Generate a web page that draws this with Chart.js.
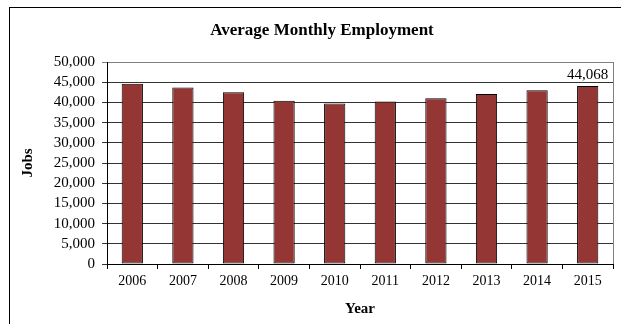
<!DOCTYPE html>
<html><head><meta charset="utf-8">
<script src="https://cdn.jsdelivr.net/npm/chart.js@4/dist/chart.umd.min.js"></script>
<style>html,body{margin:0;padding:0;background:#fff}canvas{display:block}</style>
</head><body>
<canvas id="c" width="621" height="324"></canvas>
<script>
const chartTitle = "Average Monthly Employment";
const years = ["2006","2007","2008","2009","2010","2011","2012","2013","2014","2015"];
const jobs = [44600, 43700, 42500, 40400, 39700, 40200, 41000, 42100, 43000, 44068];
const labelled = [null, null, null, null, null, null, null, null, null, "44,068"];
const yTicks = [0, 5000, 10000, 15000, 20000, 25000, 30000, 35000, 40000, 45000, 50000];

const serif = "'Liberation Serif', 'Times New Roman', serif";

const frame = {
  id: 'frame',
  beforeDraw(chart) {
    const ctx = chart.ctx;
    ctx.save();
    ctx.fillStyle = '#fff';
    ctx.fillRect(0, 0, chart.width, chart.height);
    ctx.strokeStyle = '#000';
    ctx.lineWidth = 1;
    ctx.strokeRect(9.5, 7.5, 620, 330);
    ctx.fillStyle = '#000';
    ctx.font = "bold 17px " + serif;
    ctx.textAlign = 'center';
    ctx.textBaseline = 'middle';
    ctx.fillText(chartTitle, 322, 31);
    ctx.restore();
  },
  afterDatasetsDraw(chart) {
    const ctx = chart.ctx, a = chart.chartArea;
    ctx.save();
    ctx.strokeStyle = '#808080';
    ctx.lineWidth = 1;
    ctx.beginPath();
    ctx.moveTo(a.right + 0.5, a.top);
    ctx.lineTo(a.right + 0.5, a.bottom);
    ctx.stroke();
    const meta = chart.getDatasetMeta(0);
    ctx.fillStyle = '#000';
    ctx.font = "15px " + serif;
    ctx.textAlign = 'center';
    ctx.textBaseline = 'bottom';
    meta.data.forEach((el, i) => {
      if (labelled[i]) ctx.fillText(labelled[i], el.x, el.y - 3);
    });
    ctx.restore();
  }
};

new Chart(document.getElementById('c'), {
  type: 'bar',
  data: {
    labels: years,
    datasets: [{
      data: jobs,
      backgroundColor: '#943634',
      borderColor: '#000',
      borderWidth: 1,
      borderSkipped: false,
      barPercentage: 0.42,
      categoryPercentage: 1.0
    }]
  },
  options: {
    responsive: false,
    animation: false,
    devicePixelRatio: 1,
    layout: { padding: { top: 62, left: 14, right: 8, bottom: 6 } },
    plugins: {
      legend: { display: false },
      tooltip: { enabled: false },
      title: { display: false }
    },
    scales: {
      x: {
        offset: true,
        grid: { offset: true, drawOnChartArea: false, drawTicks: true, tickLength: 5, color: '#000' },
        border: { color: '#000' },
        ticks: { color: '#000', padding: 4, font: { family: serif, size: 14 }, maxRotation: 0, autoSkip: false },
        title: { display: true, text: 'Year', color: '#000', font: { family: serif, size: 15, weight: 'bold' }, padding: { top: 8, bottom: 0 } },
        afterFit(s) { s.height = 54; }
      },
      y: {
        min: 0, max: 50000,
        afterBuildTicks(s) { s.ticks = yTicks.map(v => ({ value: v })); },
        grid: { color: (c) => c.tick && c.tick.value === 50000 ? '#808080' : '#333', tickLength: 5 },
        border: { color: '#000' },
        ticks: {
          color: '#000', padding: 7, font: { family: serif, size: 15 }, autoSkip: false,
          callback: (v) => v.toLocaleString('en-US')
        },
        title: { display: true, text: 'Jobs', color: '#000', font: { family: serif, size: 15, weight: 'bold' }, padding: { top: 5, bottom: 0 } },
        afterFit(s) { s.width = 93; }
      }
    }
  },
  plugins: [frame]
});
</script>
</body></html>
